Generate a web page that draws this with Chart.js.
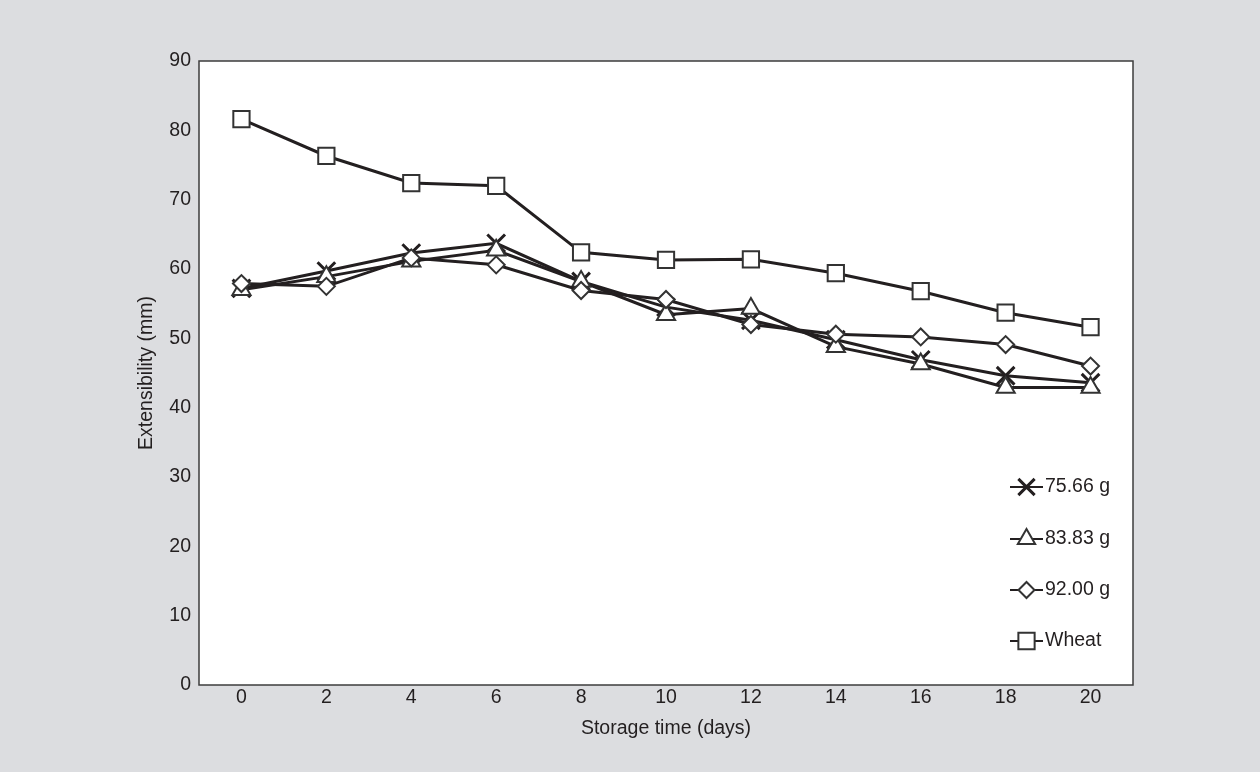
<!DOCTYPE html>
<html>
<head>
<meta charset="utf-8">
<script src="https://cdn.jsdelivr.net/npm/chart.js@4.4.0/dist/chart.umd.min.js"></script>
<style>
  html, body { margin: 0; padding: 0; background: #dcdde0; }
  #wrap { width: 1260px; height: 772px; }
</style>
</head>
<body>
<div id="wrap"><canvas id="chart"></canvas></div>
<script>
// storage days on the x axis
const days = ['0', '2', '4', '6', '8', '10', '12', '14', '16', '18', '20'];
const yTicks = [0, 10, 20, 30, 40, 50, 60, 70, 80, 90];

// extensibility (mm)
const ext7566 = [57.2, 59.7, 62.3, 63.7, 58.2, 54.5, 52.6, 49.8, 46.9, 44.6, 43.6];
const ext8383 = [57.0, 58.9, 61.1, 62.7, 58.2, 53.4, 54.3, 48.8, 46.3, 42.9, 42.9];
const ext9200 = [57.9, 57.5, 61.6, 60.6, 56.9, 55.6, 52.0, 50.6, 50.2, 49.1, 46.0];
const extWheat = [81.6, 76.3, 72.4, 72.0, 62.4, 61.3, 61.4, 59.4, 56.8, 53.7, 51.6];

const seriesLabels = ['75.66 g', '83.83 g', '92.00 g', 'Wheat'];

const INK = '#231f20';
const FONT = '"Liberation Sans", Arial, sans-serif';

const frame = {
    id: 'frame',
    beforeDraw(chart) {
        const { ctx, chartArea: a } = chart;
        ctx.save();
        ctx.fillStyle = '#dcdde0';
        ctx.fillRect(0, 0, chart.width, chart.height);
        ctx.fillStyle = '#ffffff';
        ctx.fillRect(a.left, a.top, a.right - a.left, a.bottom - a.top);
        ctx.restore();
    },
    afterDraw(chart) {
        const { ctx, chartArea: a } = chart;
        ctx.save();
        ctx.strokeStyle = '#3d3d3d';
        ctx.lineWidth = 1.5;
        ctx.strokeRect(a.left, a.top, a.right - a.left, a.bottom - a.top);
        ctx.restore();
    }
};

// legend drawn inside the plot, bottom right
const insideLegend = {
    id: 'insideLegend',
    afterDraw(chart) {
        const { ctx, chartArea: a } = chart;
        const x0 = a.right - 123;
        const rows = [487, 539, 590, 641];
        ctx.save();
        chart.data.datasets.forEach((ds, i) => {
            const y = rows[i];
            ctx.strokeStyle = INK;
            ctx.lineWidth = 2;
            ctx.beginPath();
            ctx.moveTo(x0, y);
            ctx.lineTo(x0 + 33, y);
            ctx.stroke();
            ctx.fillStyle = ds.pointBackgroundColor || '#fff';
            ctx.strokeStyle = ds.pointBorderColor || INK;
            ctx.lineWidth = ds.pointBorderWidth;
            Chart.helpers.drawPoint(ctx, {
                pointStyle: ds.pointStyle,
                radius: ds.legendRadius,
                rotation: 0,
                borderWidth: ds.pointBorderWidth
            }, x0 + 16.5, y);
            ctx.fillStyle = INK;
            ctx.font = '19.5px ' + FONT;
            ctx.textAlign = 'left';
            ctx.textBaseline = 'middle';
            ctx.fillText(ds.label, x0 + 35, y);
        });
        ctx.restore();
    }
};

new Chart(document.getElementById('chart'), {
    type: 'line',
    data: {
        labels: days,
        datasets: [
            {
                label: seriesLabels[0], data: ext7566,
                borderColor: INK, borderWidth: 3,
                pointStyle: 'crossRot', pointRadius: 12.5, legendRadius: 11.5,
                pointBorderColor: INK, pointBackgroundColor: INK, pointBorderWidth: 3,
                order: 3
            },
            {
                label: seriesLabels[1], data: ext8383,
                borderColor: INK, borderWidth: 3,
                pointStyle: 'triangle', pointRadius: 10.5, legendRadius: 10,
                pointBorderColor: '#333', pointBackgroundColor: '#fff', pointBorderWidth: 2,
                order: 2
            },
            {
                label: seriesLabels[2], data: ext9200,
                borderColor: INK, borderWidth: 3,
                pointStyle: 'rectRot', pointRadius: 8.5, legendRadius: 8,
                pointBorderColor: '#333', pointBackgroundColor: '#fff', pointBorderWidth: 2,
                order: 1
            },
            {
                label: seriesLabels[3], data: extWheat,
                borderColor: INK, borderWidth: 3,
                pointStyle: 'rect', pointRadius: 11.5, legendRadius: 11.5,
                pointBorderColor: '#333', pointBackgroundColor: '#fff', pointBorderWidth: 2,
                order: 0
            }
        ]
    },
    options: {
        responsive: true,
        maintainAspectRatio: false,
        animation: false,
        layout: { padding: { left: 0, top: 61, right: 127, bottom: 0 } },
        plugins: {
            legend: { display: false },
            tooltip: { enabled: false }
        },
        elements: { line: { tension: 0 } },
        scales: {
            x: {
                type: 'category',
                offset: true,
                grid: { display: false, drawTicks: false },
                border: { display: false },
                ticks: { color: INK, font: { family: FONT, size: 19.5 }, padding: 1 },
                title: {
                    display: true, text: 'Storage time (days)', color: INK,
                    font: { family: FONT, size: 19.5 }, padding: { top: 0, bottom: 32 }
                },
                afterFit(scale) { scale.height = 87; }
            },
            y: {
                min: 0, max: 90,
                afterBuildTicks(scale) { scale.ticks = yTicks.map(v => ({ value: v })); },
                grid: { display: false, drawTicks: false },
                border: { display: false },
                ticks: { color: INK, font: { family: FONT, size: 19.5 }, padding: 8 },
                title: {
                    display: true, text: 'Extensibility (mm)', color: INK,
                    font: { family: FONT, size: 19.5 }, padding: { top: 135, bottom: 0 }
                },
                afterFit(scale) { scale.width = 199; }
            }
        }
    },
    plugins: [frame, insideLegend]
});
</script>
</body>
</html>
